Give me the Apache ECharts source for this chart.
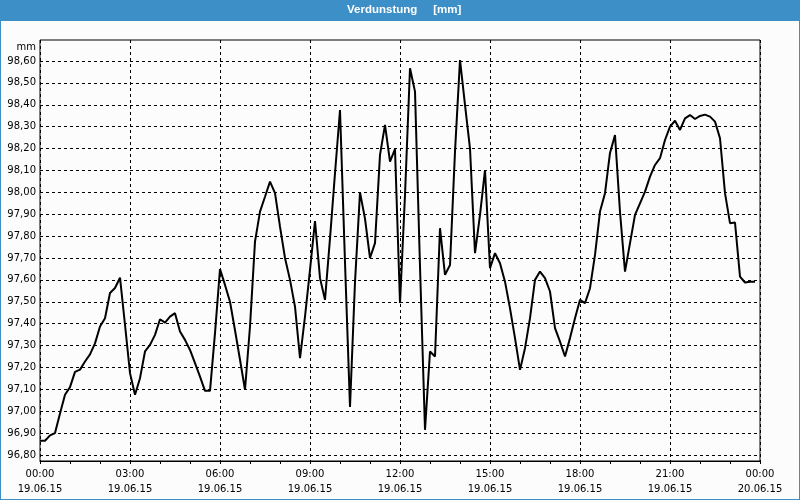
<!DOCTYPE html>
<html>
<head>
<meta charset="utf-8">
<script src="https://cdn.jsdelivr.net/npm/echarts@6/dist/echarts.min.js"></script>
<style>
html,body{margin:0;padding:0;background:#fbfcfb;}
#chart{width:800px;height:500px;}
</style>
</head>
<body>
<div id="chart"></div>
<script>
// Measurement times on 19.06.15 (10-minute samples)
const times = [
  '00:00','00:10','00:20','00:30','00:40','00:50',
  '01:00','01:10','01:20','01:30','01:40','01:50',
  '02:00','02:10','02:20','02:30','02:40','02:50',
  '03:00','03:10','03:20','03:30','03:40','03:50',
  '04:00','04:10','04:20','04:30','04:40','04:50',
  '05:00','05:10','05:20','05:30','05:40','05:50',
  '06:00','06:10','06:20','06:30','06:40','06:50',
  '07:00','07:10','07:20','07:30','07:40','07:50',
  '08:00','08:10','08:20','08:30','08:40','08:50',
  '09:00','09:10','09:20','09:30','09:40','09:50',
  '10:00','10:10','10:20','10:30','10:40','10:50',
  '11:00','11:10','11:20','11:30','11:40','11:50',
  '12:00','12:10','12:20','12:30','12:40','12:50',
  '13:00','13:10','13:20','13:30','13:40','13:50',
  '14:00','14:10','14:20','14:30','14:40','14:50',
  '15:00','15:10','15:20','15:30','15:40','15:50',
  '16:00','16:10','16:20','16:30','16:40','16:50',
  '17:00','17:10','17:20','17:30','17:40','17:50',
  '18:00','18:10','18:20','18:30','18:40','18:50',
  '19:00','19:10','19:20','19:30','19:40','19:50',
  '20:00','20:10','20:20','20:30','20:40','20:50',
  '21:00','21:10','21:20','21:30','21:40','21:50',
  '22:00','22:10','22:20','22:30','22:40','22:50',
  '23:00','23:10','23:20','23:30','23:40','23:50'
];

// Verdunstung [mm]
const values = [
  96.865,96.865,96.89,96.90,96.99,97.075,
  97.11,97.18,97.19,97.227,97.26,97.31,
  97.387,97.425,97.54,97.563,97.61,97.395,
  97.174,97.075,97.151,97.273,97.303,97.349,
  97.42,97.405,97.432,97.448,97.364,97.326,
  97.28,97.22,97.158,97.093,97.093,97.357,
  97.649,97.577,97.50,97.37,97.235,97.098,
  97.387,97.775,97.912,97.98,98.049,97.996,
  97.843,97.70,97.60,97.478,97.242,97.432,
  97.646,97.869,97.608,97.509,97.79,98.087,
  98.376,97.68,97.02,97.59,98.00,97.88,
  97.70,97.768,98.171,98.308,98.14,98.197,
  97.494,97.988,98.567,98.46,97.661,96.915,
  97.273,97.25,97.836,97.623,97.668,98.186,
  98.605,98.40,98.20,97.722,97.897,98.102,
  97.653,97.722,97.676,97.592,97.47,97.334,
  97.189,97.288,97.425,97.60,97.638,97.608,
  97.547,97.38,97.318,97.25,97.334,97.425,
  97.509,97.494,97.562,97.714,97.912,97.996,
  98.18,98.262,97.91,97.638,97.768,97.897,
  97.95,98.003,98.072,98.125,98.156,98.239,
  98.30,98.327,98.285,98.338,98.353,98.335,
  98.349,98.355,98.346,98.323,98.247,97.996,
  97.859,97.862,97.615,97.588,97.592,97.592
];

// X tick labels (every 3 hours)
const xTickTimes = ['00:00','03:00','06:00','09:00','12:00','15:00','18:00','21:00','00:00'];
const xTickDates = ['19.06.15','19.06.15','19.06.15','19.06.15','19.06.15','19.06.15','19.06.15','19.06.15','20.06.15'];

function toMinutes(s){ const p = s.split(':'); return (+p[0])*60 + (+p[1]); }
const seriesData = times.map((t,i)=>[toMinutes(t), values[i]]);

const FONT = 'DejaVu Sans';
const chart = echarts.init(document.getElementById('chart'), null, {renderer:'canvas'});
chart.setOption({
  animation:false,
  backgroundColor:'#fbfcfb',
  title:{
    text:'Verdunstung     [mm]',
    left:347, top:4, padding:0,
    textStyle:{color:'#ffffff', fontWeight:'bold', fontSize:11.5, fontFamily:'Liberation Sans'}
  },
  graphic:[
    {type:'rect', silent:true, shape:{x:0,y:0,width:800,height:21}, style:{fill:'#3d8fc7'}},
    {type:'rect', silent:true, shape:{x:0,y:0,width:800,height:500}, style:{fill:null, stroke:'#3d8fc7', lineWidth:2}}
  ],
  grid:[
    {left:40, right:40, top:61, bottom:45},
    {left:40, right:40, top:40, bottom:39, show:true, borderColor:'#000', borderWidth:1, backgroundColor:'transparent'}
  ],
  xAxis:[
    {gridIndex:0, type:'value', min:0, max:1440, show:false},
    {gridIndex:1, type:'value', min:0, max:1440, interval:180,
      axisLine:{show:true, lineStyle:{color:'#000', width:1}},
      axisTick:{show:true, length:3, lineStyle:{color:'#000'}},
      minorTick:{show:true, splitNumber:3, length:3, lineStyle:{color:'#000'}},
      splitLine:{show:true, lineStyle:{color:'#000', width:1, type:[3,3]}},
      axisLabel:{
        margin:6, color:'#000', fontFamily:FONT, fontSize:10, lineHeight:15,
        formatter:function(v){ const i = Math.round(v/180); return xTickTimes[i] + '\n' + xTickDates[i]; }
      }
    }
  ],
  yAxis:[
    {gridIndex:0, type:'value', min:96.8, max:98.6, interval:0.1,
      name:'mm', nameLocation:'end', nameGap:9,
      nameTextStyle:{align:'right', verticalAlign:'bottom', padding:[0,4,0,0], color:'#000', fontFamily:FONT, fontSize:10},
      axisLine:{show:false}, axisTick:{show:false},
      splitLine:{show:true, lineStyle:{color:'#000', width:1, type:[3,3]}},
      axisLabel:{margin:4, color:'#000', fontFamily:FONT, fontSize:10,
        formatter:function(v){ return v.toFixed(2).replace('.', ','); }}
    },
    {gridIndex:1, type:'value', min:0, max:1, show:false}
  ],
  series:[{
    type:'line', xAxisIndex:0, yAxisIndex:0, data:seriesData,
    showSymbol:false, symbol:'none',
    lineStyle:{color:'#000', width:2}, itemStyle:{color:'#000'}
  }]
});
</script>
</body>
</html>
